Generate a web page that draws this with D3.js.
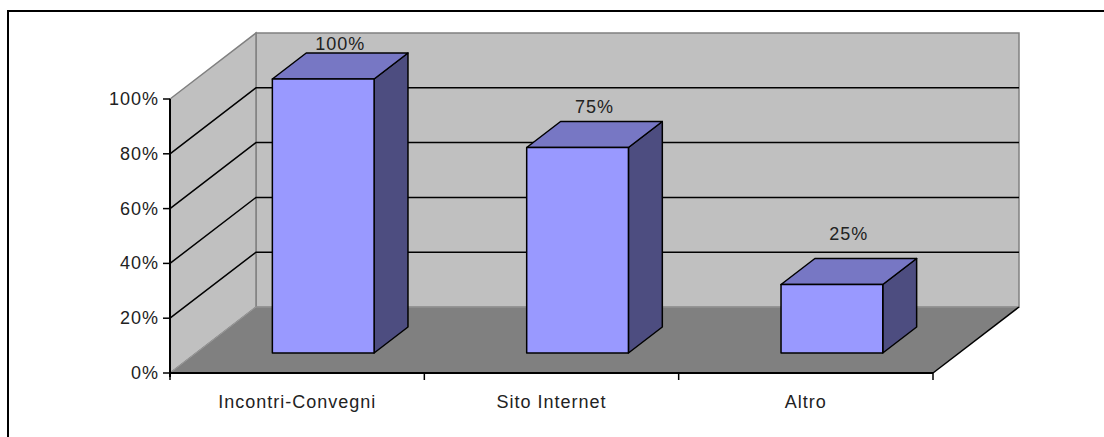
<!DOCTYPE html>
<html>
<head>
<meta charset="utf-8">
<script src="https://cdn.jsdelivr.net/npm/d3@7"></script>
<style>
  html, body { margin: 0; padding: 0; background: #fff; }
  svg { display: block; }
  text { font-family: "Liberation Sans", Arial, sans-serif; fill: #222; }
</style>
</head>
<body>
<svg id="chart" width="1104" height="437"></svg>
<script>
// Data
const categories = ["Incontri-Convegni", "Sito Internet", "Altro"];
const values = [1.00, 0.75, 0.25];
const valueLabels = ["100%", "75%", "25%"];
const yTicks = [0, 0.2, 0.4, 0.6, 0.8, 1.0];

const svg = d3.select("#chart");

// Front plane of the plot
const left = 170, right = 933, floorY = 373, topY = 99;
// Depth offset of the back wall
const depthX = 86, depthY = -66;
// Depth span occupied by the columns
const zFront = 0.303, zBack = 0.697;

const x = d3.scaleBand().domain(categories).range([left, right]).paddingInner(0).paddingOuter(0);
const y = d3.scaleLinear().domain([0, 1]).range([floorY, topY]);
const barFrac = 0.4;

const P = (px, py, z) => [px + depthX * z, py + depthY * z];
const poly = pts => pts.map(p => p.join(",")).join(" ");

// Walls
const wallFill = "#c0c0c0", wallEdge = "#808080";
svg.append("polygon")
  .attr("points", poly([P(left, y(0), 1), P(right, y(0), 1), P(right, y(1), 1), P(left, y(1), 1)]))
  .attr("fill", wallFill).attr("stroke", wallEdge).attr("stroke-width", 1.5);
svg.append("polygon")
  .attr("points", poly([[left, y(0)], [left, y(1)], P(left, y(1), 1), P(left, y(0), 1)]))
  .attr("fill", wallFill).attr("stroke", wallEdge).attr("stroke-width", 1.5);

// Floor
svg.append("polygon")
  .attr("points", poly([[left, y(0)], [right, y(0)], P(right, y(0), 1), P(left, y(0), 1)]))
  .attr("fill", "#808080").attr("stroke", "none");
svg.append("line")
  .attr("x1", left).attr("y1", y(0)).attr("x2", P(left, y(0), 1)[0]).attr("y2", P(left, y(0), 1)[1])
  .attr("stroke", "#9a9a9a").attr("stroke-width", 1);
svg.append("line")
  .attr("x1", P(left, y(0), 1)[0]).attr("y1", P(left, y(0), 1)[1])
  .attr("x2", P(right, y(0), 1)[0]).attr("y2", P(right, y(0), 1)[1])
  .attr("stroke", "#9a9a9a").attr("stroke-width", 1);
svg.append("line")
  .attr("x1", right).attr("y1", y(0)).attr("x2", P(right, y(0), 1)[0]).attr("y2", P(right, y(0), 1)[1])
  .attr("stroke", "#000").attr("stroke-width", 1.5);

// Gridlines on both walls
const grid = yTicks.filter(v => v > 0 && v < 1);
grid.forEach(v => {
  const a = [left, y(v)], b = P(left, y(v), 1), c = P(right, y(v), 1);
  svg.append("polyline").attr("points", poly([a, b, c]))
    .attr("fill", "none").attr("stroke", "#000").attr("stroke-width", 1.5);
});

// Columns
const frontC = "#9999ff", topC = "#7777c4", sideC = "#4d4d80";
categories.forEach((cat, i) => {
  const v = values[i];
  const x0 = x(cat) + x.bandwidth() * (1 - barFrac) / 2;
  const x1 = x0 + x.bandwidth() * barFrac;
  const f00 = P(x0, y(0), zFront), f10 = P(x1, y(0), zFront);
  const f01 = P(x0, y(v), zFront), f11 = P(x1, y(v), zFront);
  const b01 = P(x0, y(v), zBack), b11 = P(x1, y(v), zBack), b10 = P(x1, y(0), zBack);
  const g = svg.append("g").attr("stroke", "#000").attr("stroke-width", 1.5).attr("stroke-linejoin", "round");
  g.append("polygon").attr("points", poly([f10, b10, b11, f11])).attr("fill", sideC);
  g.append("polygon").attr("points", poly([f01, f11, b11, b01])).attr("fill", topC);
  g.append("polygon").attr("points", poly([f00, f10, f11, f01])).attr("fill", frontC);
});

// Value axis
const yAxis = svg.append("g");
yAxis.append("line").attr("x1", left).attr("x2", left).attr("y1", y(1)).attr("y2", y(0) + 4)
  .attr("stroke", "#000").attr("stroke-width", 2);
yTicks.forEach(v => {
  yAxis.append("line").attr("x1", left - 7).attr("x2", left).attr("y1", y(v)).attr("y2", y(v))
    .attr("stroke", "#000").attr("stroke-width", 1.5);
  yAxis.append("text").attr("x", left - 11).attr("y", y(v) + 6)
    .attr("text-anchor", "end").attr("font-size", 18).attr("letter-spacing", 1)
    .text(d3.format(".0%")(v));
});

// Category axis
const xAxis = svg.append("g");
xAxis.append("line").attr("x1", left).attr("x2", right).attr("y1", y(0)).attr("y2", y(0))
  .attr("stroke", "#000").attr("stroke-width", 2);
const edges = categories.map(c => x(c)).concat([right]);
edges.forEach(ex => {
  xAxis.append("line").attr("x1", ex).attr("x2", ex).attr("y1", y(0)).attr("y2", y(0) + 7)
    .attr("stroke", "#000").attr("stroke-width", 1.5);
});
categories.forEach(cat => {
  xAxis.append("text").attr("x", x(cat) + x.bandwidth() / 2).attr("y", 408)
    .attr("text-anchor", "middle").attr("font-size", 18).attr("letter-spacing", 1)
    .text(cat);
});

// Value labels above the columns
const labelY = d3.scaleLinear().domain([0, 1]).range([303, 50]);
categories.forEach((cat, i) => {
  const cx = x(cat) + x.bandwidth() / 2 + depthX * (zFront + zBack) / 2;
  svg.append("text").attr("x", cx).attr("y", labelY(values[i]))
    .attr("text-anchor", "middle").attr("font-size", 18).attr("letter-spacing", 1)
    .text(valueLabels[i]);
});

// Chart area border
svg.append("rect").attr("x", 8).attr("y", 11).attr("width", 1110).attr("height", 440)
  .attr("fill", "none").attr("stroke", "#000").attr("stroke-width", 2);
</script>
</body>
</html>
